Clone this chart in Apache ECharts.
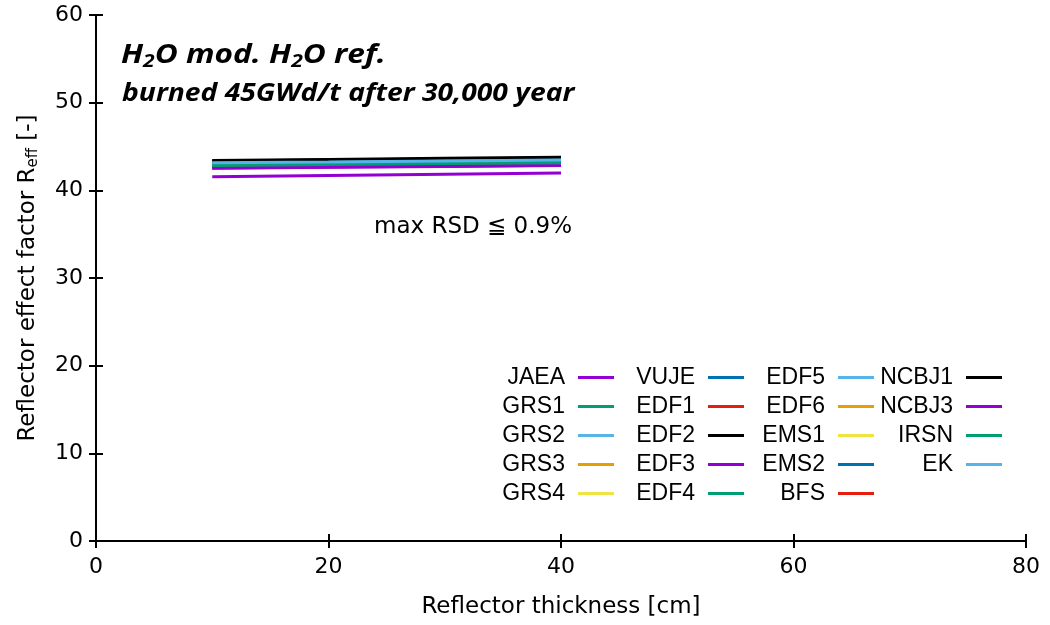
<!DOCTYPE html>
<html>
<head>
<meta charset="utf-8">
<script src="https://cdn.jsdelivr.net/npm/echarts@6/dist/echarts.min.js"></script>
<style>
  html, body { margin: 0; padding: 0; background: #fff; }
  #chart { width: 1050px; height: 625px; }
</style>
</head>
<body>
<div id="chart"></div>
<script>
// Reflector thickness [cm]
const thickness = [10, 20, 30, 40];

// Reflector effect factor per participant
const JAEA  = [41.55, 41.70, 41.84, 41.98];
const GRS1  = [42.84, 42.94, 43.05, 43.15];
const GRS2  = [43.10, 43.20, 43.30, 43.40];
const GRS3  = [42.72, 42.83, 42.93, 43.04];
const GRS4  = [42.74, 42.85, 42.95, 43.05];
const VUJE  = [43.00, 43.12, 43.23, 43.35];
const EDF1  = [42.60, 42.70, 42.80, 42.90];
const EDF2  = [43.35, 43.47, 43.58, 43.70];
const EDF3  = [42.52, 42.62, 42.72, 42.82];
const EDF4  = [42.85, 42.95, 43.05, 43.15];
const EDF5  = [43.18, 43.28, 43.39, 43.50];
const EDF6  = [42.72, 42.82, 42.93, 43.03];
const EMS1  = [42.75, 42.85, 42.95, 43.06];
const EMS2  = [43.02, 43.13, 43.24, 43.36];
const BFS   = [42.61, 42.71, 42.81, 42.91];
const NCBJ1 = [43.40, 43.52, 43.65, 43.77];
const NCBJ3 = [42.55, 42.65, 42.75, 42.85];
const IRSN  = [42.84, 42.94, 43.05, 43.16];
const EK    = [43.14, 43.24, 43.35, 43.45];

const yTicks = [0, 10, 20, 30, 40, 50, 60];
const xTicks = [0, 20, 40, 60, 80];

const C = {
  purple: '#9400d3', green: '#009e73', sky: '#56b4e9', orange: '#e69f00',
  yellow: '#f0e442', blue: '#0072b2', red: '#e51e10', black: '#000000'
};

// legend columns, in drawing order
const columns = [
  [['JAEA', JAEA, C.purple], ['GRS1', GRS1, C.green], ['GRS2', GRS2, C.sky], ['GRS3', GRS3, C.orange], ['GRS4', GRS4, C.yellow]],
  [['VUJE', VUJE, C.blue], ['EDF1', EDF1, C.red], ['EDF2', EDF2, C.black], ['EDF3', EDF3, C.purple], ['EDF4', EDF4, C.green]],
  [['EDF5', EDF5, C.sky], ['EDF6', EDF6, C.orange], ['EMS1', EMS1, C.yellow], ['EMS2', EMS2, C.blue], ['BFS', BFS, C.red]],
  [['NCBJ1', NCBJ1, C.black], ['NCBJ3', NCBJ3, C.purple], ['IRSN', IRSN, C.green], ['EK', EK, C.sky]]
];

const series = [];
columns.forEach(col => col.forEach(([name, vals, color]) => {
  series.push({
    name: name,
    type: 'line',
    data: thickness.map((t, i) => [t, vals[i]]),
    showSymbol: false,
    symbol: 'none',
    lineStyle: { color: color, width: 3 },
    itemStyle: { color: color },
    emphasis: { disabled: true },
    animation: false
  });
}));

// right offset of each legend column (line samples end here)
const legendRightOffsets = [436, 306, 176, 48];

const legends = columns.map((col, k) => ({
  data: col.map(c => ({ name: c[0], icon: 'rect' })),
  orient: 'vertical',
  align: 'right',
  right: legendRightOffsets[k],
  top: 366,
  itemWidth: 36,
  itemHeight: 3,
  itemGap: 6,
  padding: 0,
  selectedMode: false,
  formatter: name => '{t|' + name + '}',
  textStyle: {
    rich: {
      t: {
        width: 76,
        align: 'right',
        fontFamily: 'Liberation Sans',
        fontSize: 23,
        color: '#000',
        lineHeight: 18.5,
        padding: [0, 8, 0, 0]
      }
    }
  }
}));

const tickFont = { fontFamily: 'DejaVu Sans', fontSize: 22, color: '#000' };
const nameFont = { fontFamily: 'DejaVu Sans', fontSize: 23, color: '#000' };
const frame = { show: true, lineStyle: { color: '#000', width: 2 } };
const ticks = { show: true, inside: true, length: 7, lineStyle: { color: '#000', width: 2 } };
const headFont = { fontFamily: 'Open Sans', fontStyle: 'italic', fontWeight: 'bold', fill: '#000' };

const option = {
  backgroundColor: '#fff',
  animation: false,
  grid: { left: 96, right: 24, top: 15, bottom: 84, containLabel: false },
  title: [
    {
      text: 'max RSD ≦ 0.9%',
      left: 374, top: 216, padding: 0,
      textStyle: { fontFamily: 'DejaVu Sans', fontWeight: 'normal', fontSize: 23, color: '#000' }
    }
  ],
  graphic: [
    {
      type: 'text', left: 121, top: 42, scaleX: 1.17, silent: true,
      style: {
        text: '{a|H}{s|2}{a|O mod. H}{s|2}{a|O ref.}',
        rich: {
          a: Object.assign({ fontSize: 27 }, headFont),
          s: Object.assign({ fontSize: 18, padding: [12, 0, 0, 0] }, headFont)
        }
      }
    },
    {
      type: 'text', left: 122, top: 81, scaleX: 1.13, silent: true,
      style: Object.assign({ text: 'burned 45GWd/t after 30,000 year', fontSize: 25 }, headFont)
    }
  ],
  legend: legends,
  xAxis: [
    {
      type: 'value', min: 0, max: 80, interval: 20,
      name: 'Reflector thickness [cm]',
      nameLocation: 'middle', nameGap: 55,
      nameTextStyle: nameFont,
      axisLine: frame,
      axisTick: ticks,
      axisLabel: Object.assign({ margin: 15, formatter: v => xTicks.includes(v) ? String(v) : '' }, tickFont),
      splitLine: { show: false }
    },
    {
      type: 'value', min: 0, max: 80, interval: 20, position: 'top',
      axisLine: frame,
      axisTick: ticks,
      axisLabel: { show: false },
      splitLine: { show: false }
    }
  ],
  yAxis: [
    {
      type: 'value', min: 0, max: 60, interval: 10,
      name: '{n|Reflector effect factor R}{s|eff}{n| [-]}',
      nameLocation: 'middle', nameGap: 55, nameRotate: 90,
      nameTextStyle: {
        rich: {
          n: { fontFamily: 'DejaVu Sans', fontSize: 23, color: '#000' },
          s: { fontFamily: 'DejaVu Sans', fontSize: 15, color: '#000', padding: [11, 0, 0, 0] }
        }
      },
      axisLine: frame,
      axisTick: ticks,
      axisLabel: Object.assign({ margin: 13, formatter: v => yTicks.includes(v) ? String(v) : '' }, tickFont),
      splitLine: { show: false }
    },
    {
      type: 'value', min: 0, max: 60, interval: 10, position: 'right',
      axisLine: frame,
      axisTick: ticks,
      axisLabel: { show: false },
      splitLine: { show: false }
    }
  ],
  series: series
};

const chart = echarts.init(document.getElementById('chart'), null, { renderer: 'canvas' });
chart.setOption(option);
</script>
</body>
</html>
